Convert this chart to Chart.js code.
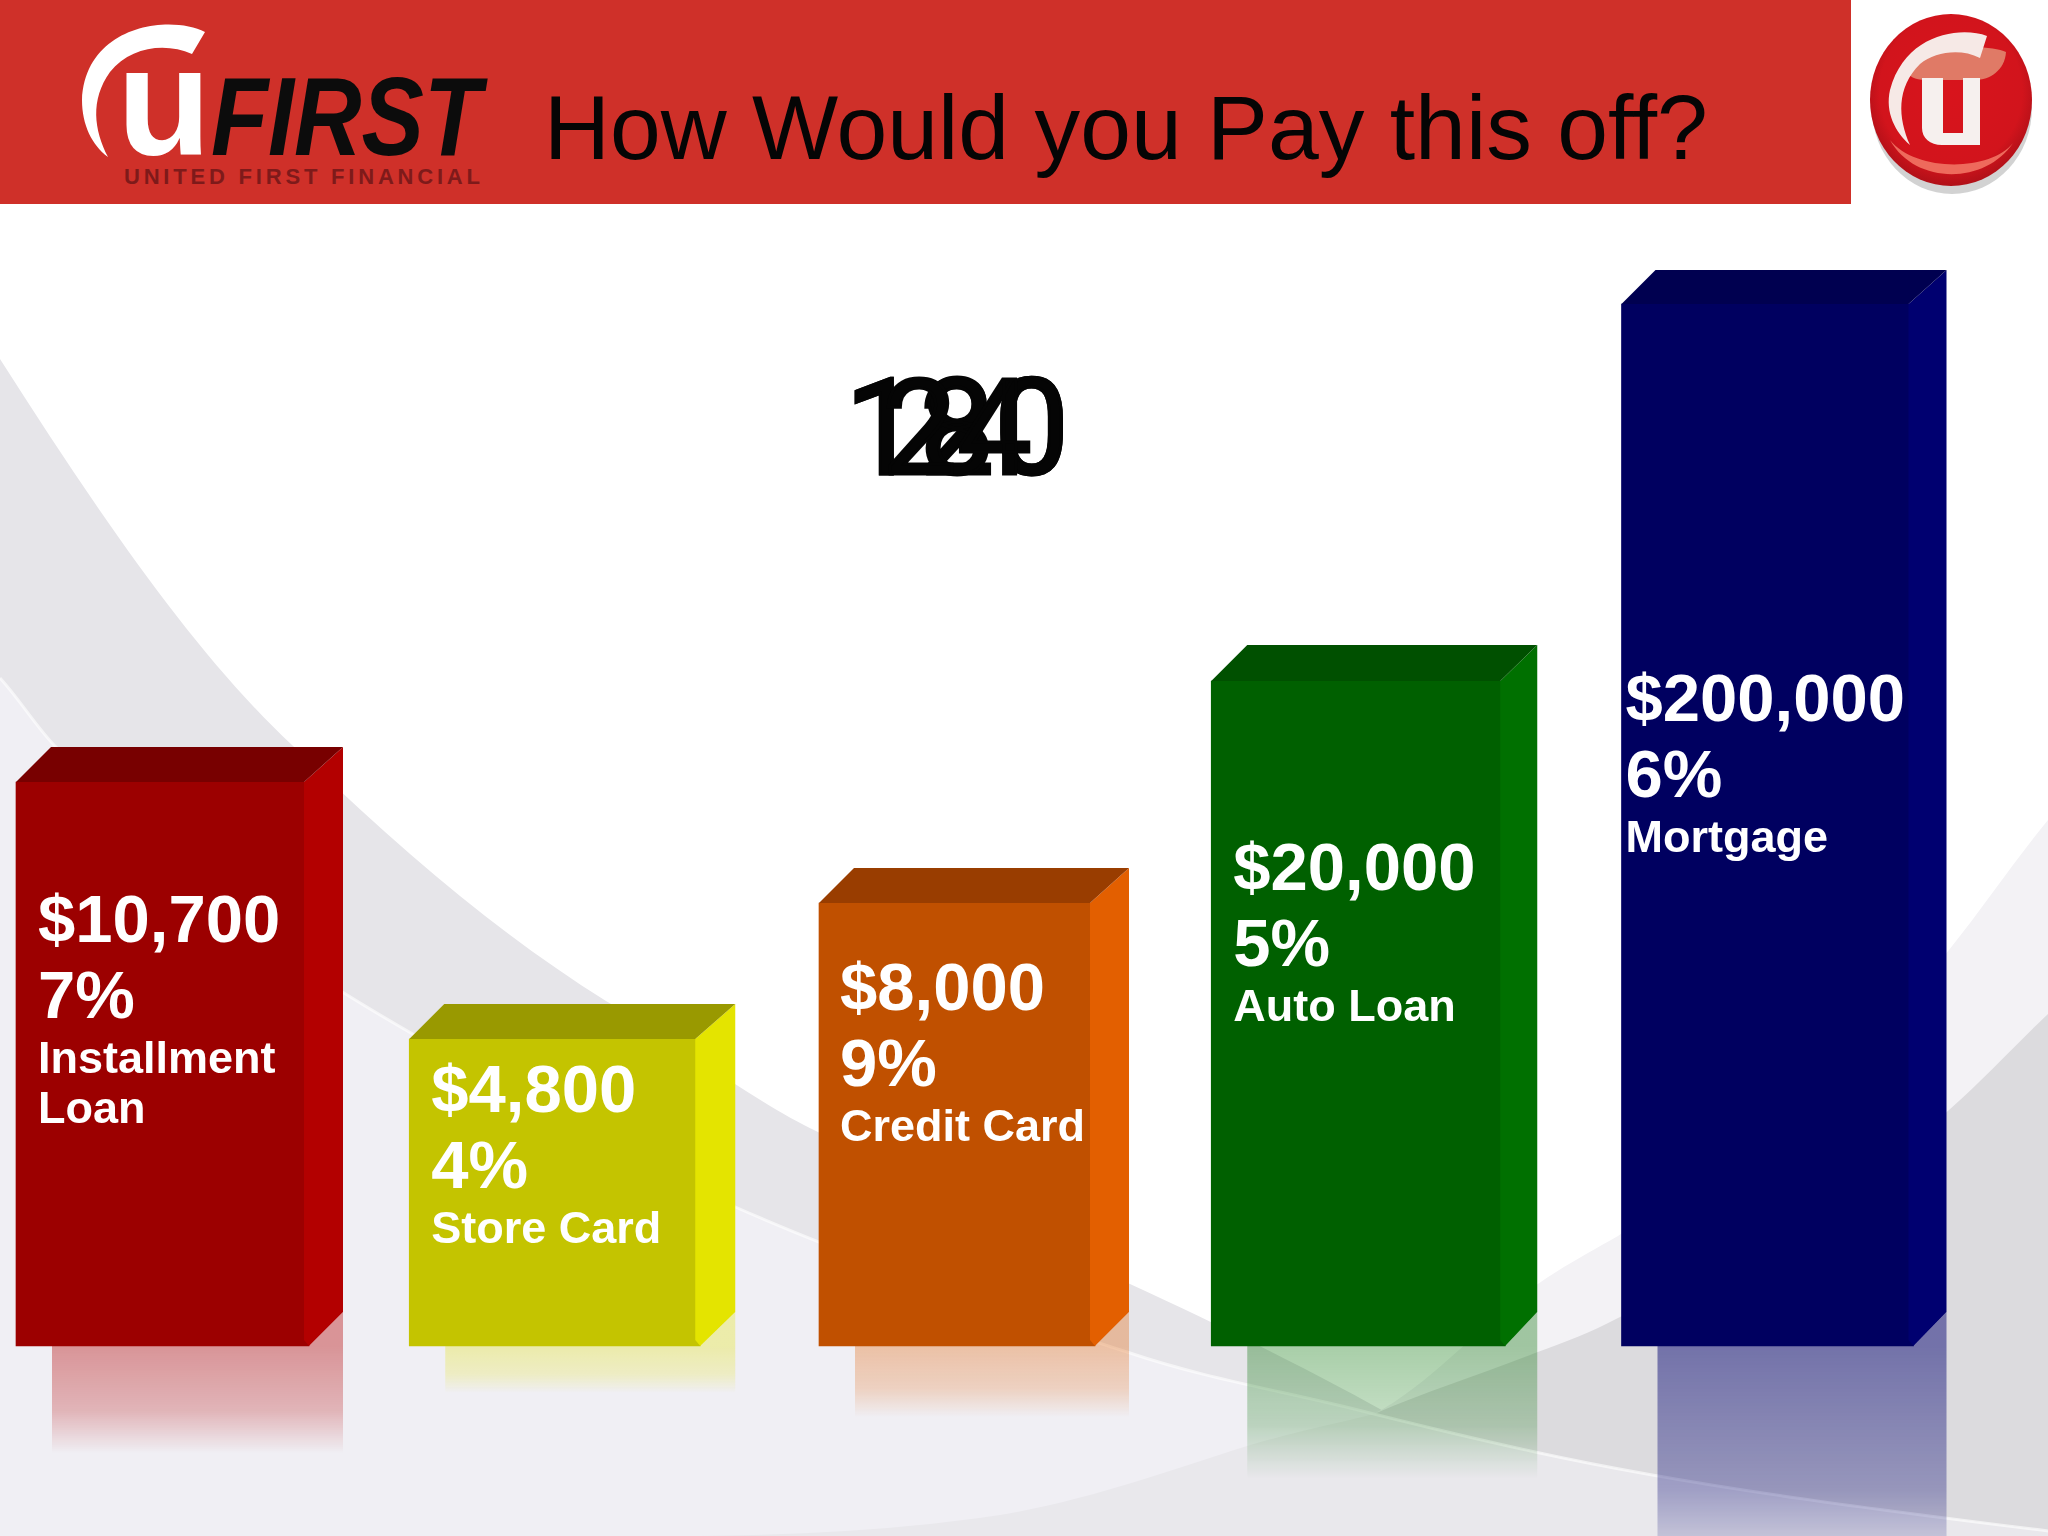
<!DOCTYPE html>
<html>
<head>
<meta charset="utf-8">
<title>How Would you Pay this off?</title>
<script src="https://cdn.jsdelivr.net/npm/chart.js@4"></script>
<style>
	html, body { margin: 0; padding: 0; background: #fff; }
	#wrap { position: relative; width: 2048px; height: 1536px; overflow: hidden; }
	#bg, #chartCanvas { position: absolute; left: 0; top: 0; }
	text { font-family: "Liberation Sans", Arial, sans-serif; }
</style>
</head>
<body>
<div id="wrap">
	<svg id="bg" width="2048" height="1536" viewBox="0 0 2048 1536">
		<defs>
			<radialGradient id="ball" cx="50%" cy="45%" r="55%">
				<stop offset="0" stop-color="#d8141c"/>
				<stop offset="0.8" stop-color="#d2141c"/>
				<stop offset="1" stop-color="#b01018"/>
			</radialGradient>
		</defs>
		<!-- background swooshes -->
		<path fill="#e6e5e9" d="M0,359 C90,500 190,650 292,745 C400,850 500,935 606,1001 C680,1045 760,1105 816,1131 C930,1190 1030,1240 1130,1284 C1220,1325 1320,1375 1400,1420 L1130,1400 L733,1260 L344,1040 L0,720 Z"/>
		<path fill="#f0eff4" d="M0,678 C20,700 35,725 54,745 C150,840 250,935 344,993 C400,1028 560,1120 733,1206 C900,1280 1130,1353 1130,1353 C1210,1380 1290,1392 1374,1414 C1430,1428 1480,1440 1535,1452 C1700,1488 1880,1510 2048,1531 L2048,1536 L0,1536 Z"/>
		<path fill="#f3f2f5" d="M1374,1414 C1430,1385 1480,1325 1535,1286 C1565,1265 1590,1252 1618,1236 C1740,1150 1860,1060 1949,950 C1985,905 2015,860 2048,820 L2048,1531 C1880,1510 1700,1488 1535,1452 C1480,1440 1430,1428 1374,1414 Z"/>
		<path fill="#dcdbde" d="M1374,1414 C1430,1390 1480,1375 1535,1353 C1565,1342 1590,1333 1618,1318 C1740,1260 1860,1190 1949,1110 C1985,1078 2015,1045 2048,1014 L2048,1531 C1880,1510 1700,1488 1535,1452 C1480,1440 1430,1428 1374,1414 Z"/>
		<path fill="#e9e8ec" d="M700,1536 C800,1535 900,1530 1000,1515 C1090,1500 1170,1470 1247,1446 C1290,1433 1330,1425 1374,1414 C1430,1428 1480,1440 1535,1452 C1700,1488 1880,1510 2048,1531 L2048,1536 Z"/>
		<path fill="none" stroke="#fff" stroke-opacity="0.6" stroke-width="3" d="M0,678 C20,700 35,725 54,745 C150,840 250,935 344,993 C400,1028 560,1120 733,1206 C900,1280 1130,1353 1130,1353 C1210,1380 1290,1392 1374,1414 C1430,1428 1480,1440 1535,1452 C1700,1488 1880,1510 2048,1531"/>
		<!-- header band -->
		<rect x="0" y="0" width="1851" height="204" fill="#cf3029"/>
		<path fill="#fff" d="M205,32 C170,14 85,25 82,100 C82,125 92,145 108,157 C94,130 90,100 110,72 C130,47 165,42 192,54 Z"/>
		<text x="117" y="155" font-size="154" font-weight="bold" fill="#fff">u</text>
		<text x="211" y="155" font-size="112" font-weight="bold" font-style="italic" fill="#0c0c0c" textLength="270" lengthAdjust="spacingAndGlyphs">FIRST</text>
		<text x="124" y="184" font-size="22" font-weight="bold" fill="#7e1a1a" textLength="356">UNITED FIRST FINANCIAL</text>
		<text x="544" y="159" font-size="91.3" fill="#050505">How Would you Pay this off?</text>
		<!-- round logo -->
		<ellipse cx="1952" cy="108" rx="80" ry="86" fill="#b4b4b4" opacity="0.6"/>
		<ellipse cx="1951" cy="100" rx="81" ry="86" fill="url(#ball)"/>
		<path fill="#e07a66" d="M1908,72 C1925,42 1990,45 2006,52 C2005,70 1990,80 1975,80 L1925,80 C1915,80 1908,76 1908,72 Z"/>
		<path fill="#f6e9e6" d="M1987,36 C1960,26 1905,34 1890,90 C1885,112 1895,132 1910,145 C1898,118 1896,88 1920,64 C1935,52 1960,48 1980,58 Z"/>
		<path fill="#f6f0ee" d="M1922,78 L1943,78 L1943,133 L1963,133 L1963,88 L1963,78 L1980,78 L1980,145 L1942,145 C1930,145 1922,138 1922,128 Z"/>
		<path fill="#ee6a5c" d="M1890,140 C1915,185 1985,185 2013,143 C1990,172 1915,172 1890,140 Z"/>
	</svg>
	<canvas id="chartCanvas" width="2048" height="1536"></canvas>
</div>
<script>
// values
const categories = [["Installment", "Loan"], ["Store Card"], ["Credit Card"], ["Auto Loan"], ["Mortgage"]];
const amounts = ["$10,700", "$4,800", "$8,000", "$20,000", "$200,000"];
const rates = ["7%", "4%", "9%", "5%", "6%"];
const barHeights = [564, 307, 443, 665, 1042];
const counterLabels = ["120", "180", "24"];

// styles per bar
const frontColors = ["#9c0000", "#c4c400", "#c05000", "#006000", "#000060"];
const sideColors = ["#b30000", "#e4e400", "#e35f00", "#007000", "#000070"];
const topColors = ["#780000", "#999900", "#993d00", "#005000", "#000050"];
const mirrorRgb = ["179,0,0", "228,228,0", "227,95,0", "0,112,0", "0,0,112"];
const mirrorAlpha = [0.38, 0.3, 0.32, 0.34, 0.48];
const mirrorLength = [107, 47, 71, 132, 240];
const barWidths = [293, 291, 276, 294, 292];
const barShift = [0, -9, -8, -8, 0];
const sideWidths = [34, 35, 34, 32, 33];
const topDepth = [35, 35, 35, 36, 34];
const labelDrop = [160, 73, 107, 209, 417];
const labelInset = [22, 22, 21, 22, 4];

const FONT = '"Liberation Sans", Arial, sans-serif';
const DEPTH = 34;

const boxPlugin = {
	id: "box3d",
	// bars are not evenly spaced in the picture
	afterDatasetsUpdate(chart) {
		chart.getDatasetMeta(0).data.forEach((bar, i) => {
			bar.x += barShift[i];
			bar.width = barWidths[i];
		});
	},
	// reflections under the bars
	beforeDatasetsDraw(chart) {
		const ctx = chart.ctx;
		chart.getDatasetMeta(0).data.forEach((bar, i) => {
			const left = bar.x - bar.width / 2;
			const right = bar.x + bar.width / 2;
			const side = right + sideWidths[i];
			const end = bar.base + mirrorLength[i];
			const grad = ctx.createLinearGradient(0, bar.base, 0, end);
			grad.addColorStop(0, `rgba(${mirrorRgb[i]},${mirrorAlpha[i]})`);
			grad.addColorStop(0.6, `rgba(${mirrorRgb[i]},${mirrorAlpha[i] * 0.65})`);
			grad.addColorStop(1, `rgba(${mirrorRgb[i]},0)`);
			ctx.save();
			ctx.fillStyle = grad;
			ctx.beginPath();
			ctx.moveTo(left + 36, bar.base);
			ctx.lineTo(right, bar.base);
			ctx.lineTo(side, bar.base - DEPTH);
			ctx.lineTo(side, end);
			ctx.lineTo(left + 36, end);
			ctx.closePath();
			ctx.fill();
			ctx.restore();
		});
	},
	// side and top faces, then the labels
	afterDatasetsDraw(chart) {
		const ctx = chart.ctx;
		chart.getDatasetMeta(0).data.forEach((bar, i) => {
			const left = bar.x - bar.width / 2;
			const right = bar.x + bar.width / 2;
			const side = right + sideWidths[i];
			const depth = topDepth[i];
			ctx.save();
			ctx.fillStyle = sideColors[i];
			ctx.beginPath();
			ctx.moveTo(right - 5, bar.y);
			ctx.lineTo(side, bar.y - depth);
			ctx.lineTo(side, bar.base - DEPTH);
			ctx.lineTo(right, bar.base);
			ctx.lineTo(right - 5, bar.base - 6);
			ctx.closePath();
			ctx.fill();

			ctx.fillStyle = topColors[i];
			ctx.beginPath();
			ctx.moveTo(left, bar.y);
			ctx.lineTo(left + depth, bar.y - depth);
			ctx.lineTo(side, bar.y - depth);
			ctx.lineTo(right - 5, bar.y);
			ctx.closePath();
			ctx.fill();

			const x = left + labelInset[i];
			let y = bar.y + labelDrop[i];
			ctx.fillStyle = "#fff";
			ctx.textAlign = "left";
			ctx.textBaseline = "alphabetic";
			ctx.font = `bold 67px ${FONT}`;
			ctx.fillText(amounts[i], x, y);
			y += 76;
			ctx.fillText(rates[i], x, y);
			y += 55;
			ctx.font = `bold 45px ${FONT}`;
			categories[i].forEach((line, n) => {
				ctx.fillText(line, x, y + n * 50);
			});
			ctx.restore();
		});

		// the counter numbers sit on top of each other
		ctx.save();
		ctx.fillStyle = "#050505";
		ctx.strokeStyle = "#050505";
		ctx.lineWidth = 3;
		ctx.textAlign = "center";
		ctx.textBaseline = "alphabetic";
		ctx.font = "133px Roboto, sans-serif";
		counterLabels.forEach((label) => {
			ctx.fillText(label, 957, 474);
			ctx.strokeText(label, 957, 474);
		});
		ctx.restore();
	},
};

const ctx = document.getElementById("chartCanvas").getContext("2d");
const chart = new Chart(ctx, {
	type: "bar",
	data: {
		labels: categories,
		datasets: [
			{
				label: "Debt",
				data: barHeights,
				backgroundColor: frontColors,
				borderWidth: 0,
				barThickness: 292,
				clip: false,
			},
		],
	},
	options: {
		responsive: false,
		animation: false,
		events: [],
		layout: {
			padding: { left: 162.5, right: 280.5, top: 0, bottom: 190 },
		},
		scales: {
			x: { display: false, offset: false },
			y: { display: false, min: 0, max: 1346 },
		},
		plugins: {
			legend: { display: false },
			tooltip: { enabled: false },
		},
	},
	plugins: [boxPlugin],
});
</script>
</body>
</html>
